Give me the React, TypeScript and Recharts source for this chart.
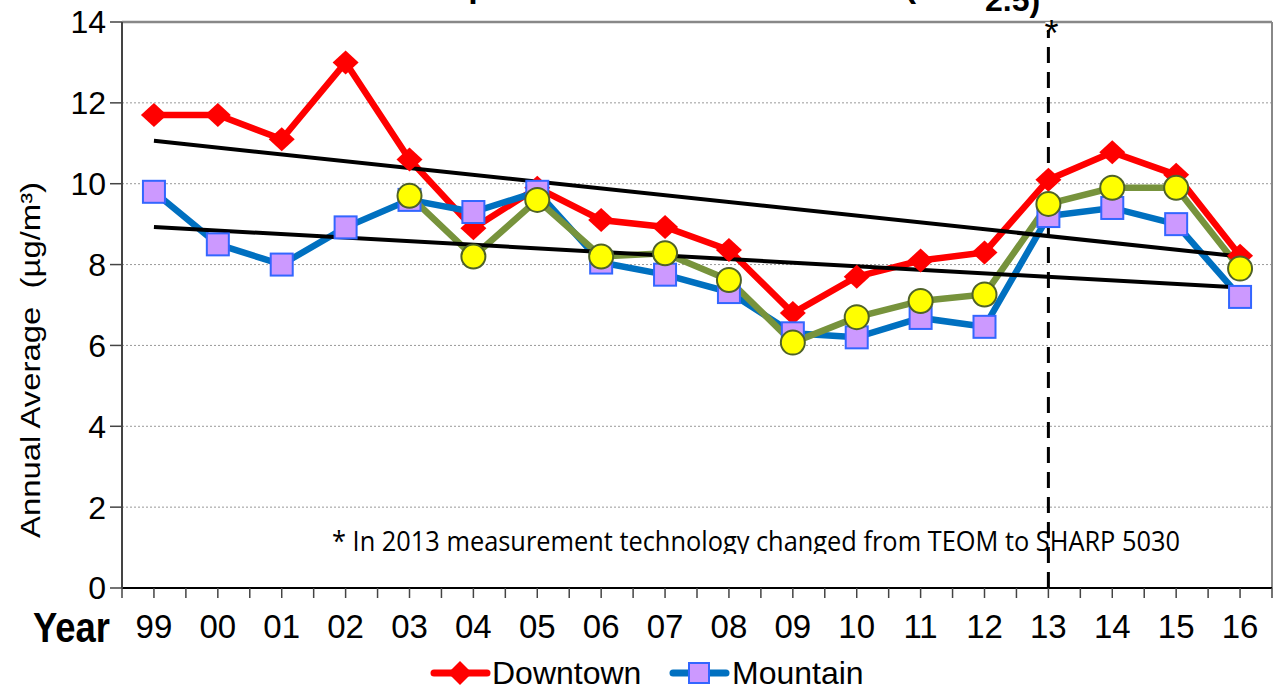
import React from "react";
import {
  ComposedChart,
  Line,
  XAxis,
  YAxis,
  CartesianGrid,
  ReferenceLine,
  Legend,
  Customized,
} from "recharts";

// values
const years = ["99", "00", "01", "02", "03", "04", "05", "06", "07", "08", "09", "10", "11", "12", "13", "14", "15", "16"];
const downtown = [11.7, 11.7, 11.1, 13.0, 10.6, 8.9, 9.9, 9.1, 8.93, 8.36, 6.8, 7.7, 8.1, 8.3, 10.1, 10.78, 10.22, 8.22];
const mountain = [9.8, 8.5, 8.0, 8.92, 9.6, 9.3, 9.8, 8.05, 7.75, 7.32, 6.3, 6.2, 6.68, 6.46, 9.2, 9.4, 9.0, 7.2];
const thirdSite = [null, null, null, null, 9.7, 8.2, 9.6, 8.2, 8.28, 7.62, 6.07, 6.7, 7.1, 7.26, 9.5, 9.9, 9.9, 7.9];
const downtownTrend = [11.06, null, null, null, null, null, null, null, null, null, null, null, null, null, null, null, null, 8.2];
const mountainTrend = [8.93, null, null, null, null, null, null, null, null, null, null, null, null, null, null, null, null, 7.43];
const yTicks = [0, 2, 4, 6, 8, 10, 12, 14];

const data = years.map((y, i) => ({
  year: y,
  downtown: downtown[i],
  mountain: mountain[i],
  third: thirdSite[i],
  dtTrend: downtownTrend[i],
  mtTrend: mountainTrend[i],
}));

const W = 1276;
const H = 689;
const LEFT = 122;
const RIGHT = 4;
const BAND = (W - LEFT - RIGHT) / years.length;
const FONT = "'Liberation Sans', Arial, sans-serif";

const Diamond = (props: any) => {
  const { cx, cy, index } = props;
  if (cx == null || cy == null) return <g key={"d" + index} />;
  return (
    <polygon
      key={"d" + index}
      points={`${cx},${cy - 12} ${cx + 13},${cy} ${cx},${cy + 12} ${cx - 13},${cy}`}
      fill="#FF0000"
    />
  );
};

const Square = (props: any) => {
  const { cx, cy, index } = props;
  if (cx == null || cy == null) return <g key={"s" + index} />;
  return <rect key={"s" + index} x={cx - 11} y={cy - 11} width={22} height={22} fill="#CC99FF" stroke="#3366FF" strokeWidth={2} />;
};

const Dot = (props: any) => {
  const { cx, cy, index } = props;
  if (cx == null || cy == null) return <g key={"c" + index} />;
  return <circle key={"c" + index} cx={cx} cy={cy} r={12} fill="#FFFF00" stroke="#4F6228" strokeWidth={2} />;
};

const YearTick = (props: any) => {
  const { x, y, payload, index } = props;
  const last = index === years.length - 1;
  return (
    <g>
      <line x1={x - BAND / 2} x2={x - BAND / 2} y1={y} y2={y + 10} stroke="#444" strokeWidth={1.5} />
      <line x1={x} x2={x} y1={y} y2={y + 10} stroke="#444" strokeWidth={1.5} />
      {last && <line x1={x + BAND / 2} x2={x + BAND / 2} y1={y} y2={y + 10} stroke="#444" strokeWidth={1.5} />}
      <text x={x} y={y + 50} textAnchor="middle" fontSize={33} fontFamily={FONT} fill="#000">
        {payload.value}
      </text>
    </g>
  );
};

const LegendContent = () => (
  <svg width={W} height={40} style={{ display: "block", overflow: "visible" }}>
    <line x1={434} x2={487} y1={24} y2={24} stroke="#FF0000" strokeWidth={7} strokeLinecap="round" />
    <polygon points="460,12 472,24 460,36 448,24" fill="#FF0000" />
    <text x={492} y={35} fontSize={32} fontFamily={FONT} fill="#000">Downtown</text>
    <line x1={673} x2={726} y1={24} y2={24} stroke="#0070C0" strokeWidth={7} strokeLinecap="round" />
    <rect x={689} y={14} width={20} height={20} fill="#CC99FF" stroke="#3366FF" strokeWidth={2} />
    <text x={732} y={35} fontSize={32} fontFamily={FONT} fill="#000">Mountain</text>
  </svg>
);

const Decorations = () => (
  <g>
    <defs>
      <clipPath id="noteClip">
        <rect x={0} y={500} width={W} height={54} />
      </clipPath>
    </defs>
    <text x={268} y={-3} fontSize={34} fontWeight="bold" fontFamily={FONT} fill="#000">
      Annual Comparison of Fine Particulate (PM
      <tspan x={985} dy={14} fontSize={32}>2.5)</tspan>
    </text>
    <text
      transform="rotate(-90)"
      x={-360}
      y={40}
      textAnchor="middle"
      fontSize={27}
      fontFamily={FONT}
      fill="#000"
      textLength={356}
      lengthAdjust="spacingAndGlyphs"
    >
      {"Annual Average\u00a0\u00a0(\u00b5g/m\u00b3)"}
    </text>
    <text x={33} y={642} fontSize={42} fontWeight="bold" fontFamily={FONT} fill="#000" textLength={77} lengthAdjust="spacingAndGlyphs">
      Year
    </text>
    <text
      x={332}
      y={551}
      fontSize={27}
      fontFamily="'Open Sans', sans-serif"
      fill="#000"
      textLength={848}
      lengthAdjust="spacingAndGlyphs"
      clipPath="url(#noteClip)"
    >
      * In 2013 measurement technology changed from TEOM to SHARP 5030
    </text>
  </g>
);

const Star = (props: any) => {
  const { viewBox } = props;
  return (
    <g>
      <rect x={viewBox.x - 3} y={viewBox.y} width={6} height={8} fill="#fff" />
      <text x={viewBox.x - 4} y={viewBox.y + 24} fontSize={36} fontFamily={FONT} fill="#000">
        *
      </text>
    </g>
  );
};

export default function App() {
  return (
    <div style={{ position: "absolute", left: 0, top: 0, width: W, height: H, background: "#fff" }}>
      <ComposedChart width={W} height={H} data={data} margin={{ top: 22, right: RIGHT, left: 0, bottom: 0 }}>
        <CartesianGrid vertical={false} stroke="#999" strokeDasharray="2 2" />
        <XAxis
          dataKey="year"
          scale="band"
          height={61}
          tickSize={0}
          tickMargin={0}
          tick={<YearTick />}
          interval={0}
          axisLine={{ stroke: "#000", strokeWidth: 2 }}
        />
        <YAxis
          width={LEFT}
          domain={[0, 14]}
          ticks={yTicks}
          interval={0}
          tickSize={12}
          tickMargin={4}
          tick={{ fontSize: 32, fill: "#000", fontFamily: FONT }}
          tickLine={{ stroke: "#444", strokeWidth: 1.5 }}
          axisLine={{ stroke: "#444", strokeWidth: 2 }}
        />
        <ReferenceLine y={14} stroke="#888" strokeWidth={2.5} />
        <ReferenceLine x="16" position="end" stroke="#888" strokeWidth={2} />
        <Legend verticalAlign="bottom" height={40} content={<LegendContent />} wrapperStyle={{ left: 0, width: W }} />
        <Line
          dataKey="downtown"
          name="Downtown"
          stroke="#FF0000"
          strokeWidth={6.5}
          dot={Diamond}
          isAnimationActive={false}
        />
        <Line
          dataKey="mountain"
          name="Mountain"
          stroke="#0070C0"
          strokeWidth={6.5}
          dot={Square}
          isAnimationActive={false}
        />
        <Line
          dataKey="third"
          name="Third site"
          stroke="#77933C"
          strokeWidth={6.5}
          dot={Dot}
          isAnimationActive={false}
        />
        <Line dataKey="dtTrend" stroke="#000" strokeWidth={4} dot={false} connectNulls legendType="none" isAnimationActive={false} />
        <Line dataKey="mtTrend" stroke="#000" strokeWidth={4} dot={false} connectNulls legendType="none" isAnimationActive={false} />
        <ReferenceLine
          x="13"
          stroke="#000"
          strokeWidth={3}
          strokeDasharray="16 9"
          label={<Star />}
        />
        <Customized component={Decorations} />
      </ComposedChart>
    </div>
  );
}
